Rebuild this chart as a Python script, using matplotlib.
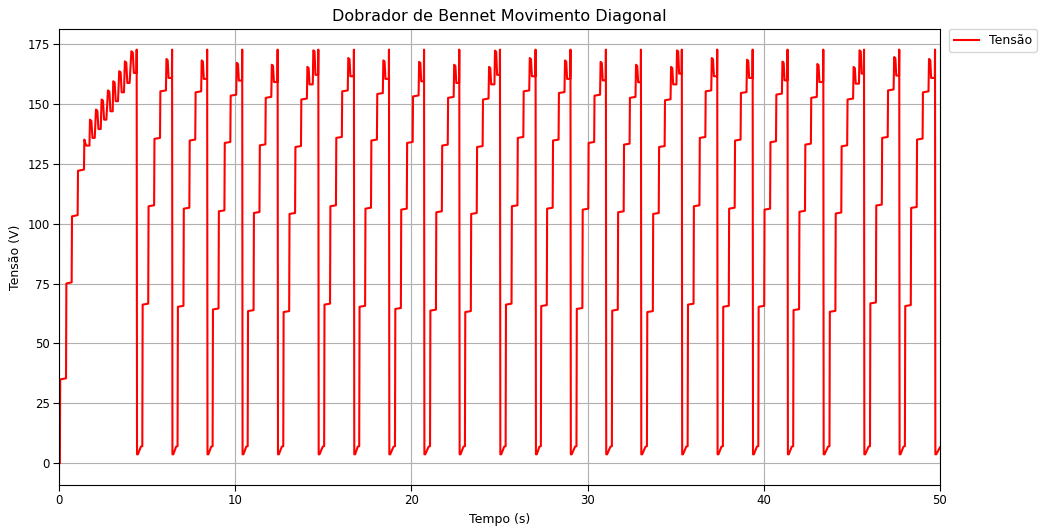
import numpy as np
import matplotlib
matplotlib.use("Agg")
import matplotlib.pyplot as plt

# --- startup (capacitor charging from zero) ---
startup_step_times = [0.05, 0.40, 0.72, 1.06, 1.42]
startup_step_levels = [35.0, 75.0, 103.0, 122.0, 135.0]
startup_first_dip = 132.5
startup_bump_times = [1.73, 2.07, 2.39, 2.75, 3.05, 3.39, 3.71, 4.08]
startup_bump_peaks = [143.3, 147.5, 151.7, 155.5, 159.3, 163.5, 167.6, 171.8]
startup_bump_dips = [135.7, 139.4, 143.3, 146.8, 151.0, 154.7, 158.6, 162.8]
startup_drop = 4.41

# --- periodic regime, one entry per cycle ---
cycle_start = [4.73, 6.73, 8.72, 10.71, 12.73, 15.05, 17.04, 19.07, 21.06, 23.04,
               25.35, 27.35, 29.37, 31.38, 33.37, 35.68, 37.68, 39.69, 41.67, 43.73,
               46.03, 48.01]
cycle_drop = [6.42, 8.41, 10.40, 12.41, 14.72, 16.74, 18.73, 20.72, 22.72, 25.03,
              27.05, 29.03, 31.04, 33.03, 35.35, 37.36, 39.37, 41.35, 43.38, 45.69,
              47.69, 49.72]
level_1 = [66.2, 65.3, 64.2, 63.5, 63.1, 66.2, 65.3, 64.4, 63.7, 63.1,
           66.2, 65.6, 64.4, 63.7, 63.1, 66.2, 65.3, 65.3, 63.9, 63.2, 66.7, 65.6]
level_2 = [107.2, 106.2, 105.1, 104.4, 104.0, 107.2, 106.2, 105.8, 104.7, 104.0,
           107.2, 106.2, 105.8, 104.7, 104.0, 107.2, 106.2, 105.8, 104.9, 104.2, 107.5, 106.5]
level_3 = [135.3, 134.6, 133.6, 132.6, 131.9, 135.7, 134.6, 133.6, 132.5, 131.9,
           135.7, 134.6, 133.6, 132.9, 131.9, 135.7, 134.6, 133.9, 132.9, 132.2, 135.7, 135.0]
level_4 = [155.1, 154.7, 153.3, 152.4, 151.7, 155.1, 154.0, 153.0, 152.4, 151.7,
           155.1, 154.4, 153.3, 152.4, 151.4, 155.1, 154.4, 153.75, 152.4, 151.7, 155.5, 154.7]
bump_peak = [168.6, 168.0, 167.0, 166.2, 165.3, 169.0, 168.0, 167.4, 166.2, 165.3,
             169.0, 168.0, 167.4, 166.2, 165.3, 169.0, 168.3, 167.5, 166.5, 165.3, 169.4, 168.6]
bump_dip = [160.7, 160.3, 159.6, 159.0, 158.0, 161.4, 160.3, 159.3, 158.6, 158.0,
            161.4, 160.3, 159.7, 158.9, 158.0, 161.4, 160.7, 159.7, 159.0, 158.3, 161.7, 160.7]
second_peak = [np.nan, np.nan, np.nan, np.nan, 172.2, np.nan, np.nan, np.nan, np.nan, 172.1,
               np.nan, np.nan, np.nan, np.nan, 172.2, np.nan, np.nan, np.nan, np.nan, 172.2,
               np.nan, np.nan]
second_dip = [np.nan, np.nan, np.nan, np.nan, 162.0, np.nan, np.nan, np.nan, np.nan, 162.0,
              np.nan, np.nan, np.nan, np.nan, 162.5, np.nan, np.nan, np.nan, np.nan, 162.5,
              np.nan, np.nan]

spike_level = 172.5
floor_low = 3.8
floor_high = 7.0
end_time = 50.0
end_level = 6.7

step = 0.335  # switching interval between stages


def spike_and_drop(t_list, v_list, t_drop, v_before):
    t_list += [t_drop - 0.01, t_drop, t_drop + 0.02, t_drop + 0.07]
    v_list += [v_before, spike_level, floor_low, floor_low]


t, v = [0.0, startup_step_times[0]], [0.0, 0.0]
for i, (ts, lv) in enumerate(zip(startup_step_times, startup_step_levels)):
    t += [ts + 0.02]
    v += [lv]
    if i + 1 < len(startup_step_times):
        t += [startup_step_times[i + 1]]
        v += [lv + 0.5]
t += [startup_step_times[-1] + 0.12, startup_bump_times[0]]
v += [startup_first_dip, startup_first_dip]
for bt, pk, dp in zip(startup_bump_times, startup_bump_peaks, startup_bump_dips):
    t += [bt + 0.03, bt + 0.11, bt + 0.17, bt + 0.3]
    v += [pk, pk - 0.5, dp, dp]
spike_and_drop(t, v, startup_drop, startup_bump_dips[-1])

for k in range(len(cycle_start)):
    ts = cycle_start[k]
    t += [ts - 0.08, ts, ts + 0.02]
    v += [floor_high, floor_high + 0.2, level_1[k]]
    levels = [level_1[k], level_2[k], level_3[k], level_4[k]]
    for j in range(1, 4):
        tj = ts + j * step
        t += [tj, tj + 0.02]
        v += [levels[j - 1] + 0.4, levels[j]]
    tb = ts + 4 * step
    t += [tb, tb + 0.03, tb + 0.1, tb + 0.15]
    v += [level_4[k] + 0.4, bump_peak[k], bump_peak[k] - 0.5, bump_dip[k]]
    last = bump_dip[k]
    if not np.isnan(second_peak[k]):
        tb2 = ts + 5 * step
        t += [tb2, tb2 + 0.03, tb2 + 0.1, tb2 + 0.15]
        v += [bump_dip[k], second_peak[k], second_peak[k] - 0.5, second_dip[k]]
        last = second_dip[k]
    spike_and_drop(t, v, cycle_drop[k], last)

t += [end_time]
v += [end_level]

fig = plt.figure(figsize=(10.4, 5.28), dpi=100)
ax = fig.add_axes([0.0567, 0.0805, 0.8471, 0.8646])
ax.plot(t, v, color='red', linewidth=1.5, label='Tensão')
ax.set_xlim(0, 50)
ax.set_ylim(-9.2, 181.1)
ax.set_yticks(np.arange(0, 176, 25))
ax.set_xticks(np.arange(0, 51, 10))
ax.tick_params(labelsize=8.5, length=4, pad=2.4)
ax.grid(True, color='#b0b0b0', linewidth=0.8)
ax.set_title('Dobrador de Bennet Movimento Diagonal', fontsize=11.5)
ax.set_xlabel('Tempo (s)', fontsize=9)
ax.set_ylabel('Tensão (V)', fontsize=9)
ax.legend(bbox_to_anchor=(1.01, 1), loc='upper left', borderaxespad=0, fontsize=9)

fig.savefig('out.png', dpi=100)
